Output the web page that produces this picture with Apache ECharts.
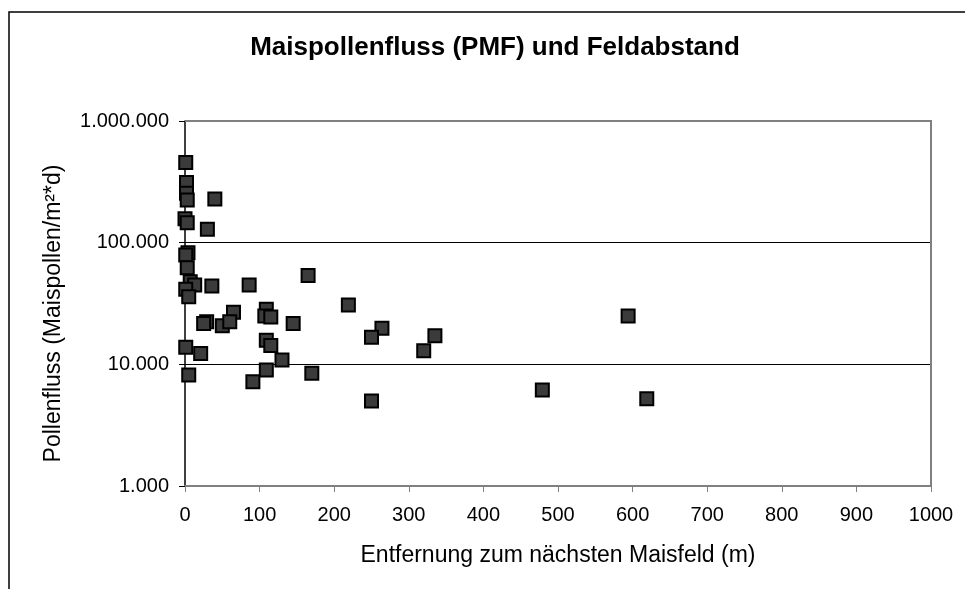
<!DOCTYPE html>
<html>
<head>
<meta charset="utf-8">
<script src="https://cdn.jsdelivr.net/npm/echarts@6/dist/echarts.min.js"></script>
<style>
  html, body { margin: 0; padding: 0; background: #fff; }
  #chart { width: 965px; height: 589px; }
</style>
</head>
<body>
<div id="chart"></div>
<script>
// Entfernung (m) und Pollenfluss (Maispollen/m²*d)
var distances = [1, 2, 2, 3, 40, 0, 3, 30, 4, 1, 3, 7, 13, 36, 86, 1, 5, 165, 219, 109, 107, 115, 65, 29, 25, 50, 60, 145, 264, 250, 335, 320, 109, 115, 130, 109, 91, 170, 250, 1, 21, 5, 594, 479, 619];
var pollenFlux = [455000, 313000, 255000, 224000, 229000, 157000, 146000, 129000, 82800, 79200, 62300, 47700, 44900, 44000, 44900, 41400, 36000, 53600, 30700, 28300, 25000, 24500, 26800, 22400, 21700, 20800, 22400, 21700, 19800, 16700, 17200, 12950, 15800, 14300, 10860, 8980, 7200, 8430, 5000, 13800, 12300, 8170, 25000, 6150, 5220];
var xTicks = [0, 100, 200, 300, 400, 500, 600, 700, 800, 900, 1000];
var yTicks = [1000, 10000, 100000, 1000000];

var points = distances.map(function (d, i) {
  return [d, pollenFlux[i]];
});

// deutsche Tausenderpunkte
function deNumber(v) {
  return String(Math.round(v)).replace(/\B(?=(\d{3})+(?!\d))/g, ".");
}

var font = "Liberation Sans, Arial, sans-serif";
var chart = echarts.init(document.getElementById("chart"));
chart.setOption({
  backgroundColor: "#fff",
  animation: false,
  textStyle: { fontFamily: font },
  title: {
    text: "Maispollenfluss (PMF) und Feldabstand",
    left: 490,
    top: 30,
    textAlign: "center",
    textStyle: { fontSize: 26, fontWeight: "bold", color: "#000", fontFamily: font },
  },
  grid: { left: 185, right: 34, top: 121, bottom: 103 },
  xAxis: {
    type: "value",
    min: xTicks[0],
    max: xTicks[xTicks.length - 1],
    interval: 100,
    name: "Entfernung zum nächsten Maisfeld (m)",
    nameLocation: "middle",
    nameGap: 58,
    nameTextStyle: { fontSize: 23, color: "#000" },
    axisLine: { lineStyle: { color: "#808080", width: 2 } },
    axisTick: { show: true, inside: false, length: 6, lineStyle: { color: "#808080", width: 1 } },
    axisLabel: {
      fontSize: 20,
      color: "#000",
      margin: 19,
      formatter: function (v) {
        return String(v);
      },
    },
    splitLine: { show: false },
  },
  yAxis: {
    type: "log",
    logBase: 10,
    min: yTicks[0],
    max: yTicks[yTicks.length - 1],
    name: "Pollenfluss (Maispollen/m²*d)",
    nameLocation: "middle",
    nameGap: 120,
    nameTextStyle: { fontSize: 23, color: "#000", padding: [0, 20, 0, 0] },
    axisLine: { show: true, lineStyle: { color: "#000", width: 1.5 } },
    axisTick: { show: true, inside: false, length: 6, lineStyle: { color: "#000" } },
    axisLabel: { fontSize: 20, color: "#000", margin: 16, formatter: deNumber },
    splitLine: { show: true, lineStyle: { color: "#000", width: 1 } },
    minorTick: { show: false },
  },
  graphic: [
    {
      type: "rect",
      shape: { x: 9, y: 12, width: 980, height: 600 },
      style: { fill: null, stroke: "#000", lineWidth: 1.5 },
      z: 100,
      silent: true,
    },
    {
      type: "polyline",
      shape: { points: [[185, 121], [931, 121], [931, 486]] },
      style: { fill: null, stroke: "#808080", lineWidth: 2 },
      z: 100,
      silent: true,
    },
  ],
  series: [
    {
      type: "scatter",
      data: points,
      symbol: "rect",
      symbolSize: 13,
      itemStyle: { color: "#3b3b3b", borderColor: "#000", borderWidth: 2, opacity: 1 },
      z: 5,
    },
  ],
});
</script>
</body>
</html>
